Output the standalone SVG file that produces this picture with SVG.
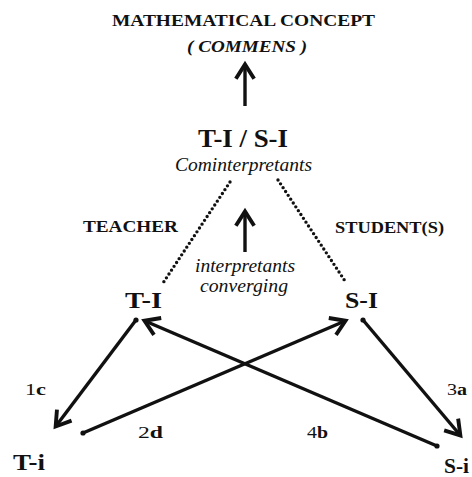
<svg xmlns="http://www.w3.org/2000/svg" width="472" height="477" viewBox="0 0 472 477">
<style>
text{font-family:"Liberation Serif",serif;fill:#111}
.b{font-weight:bold}
.i{font-style:italic}
.arr{stroke:#111;stroke-width:3.4;fill:none;marker-end:url(#ah)}
.dot{stroke:#111;stroke-width:3.4;stroke-linecap:round;stroke-dasharray:0 4.6;fill:none}
.lbl{font-size:17px}
.num{font-weight:normal}
</style>
<defs>
<marker id="ah" markerUnits="userSpaceOnUse" markerWidth="24" markerHeight="24" viewBox="-3 -3 21 21" refX="12" refY="8" orient="auto">
<path d="M0,0 L12.5,8 L0,16" fill="none" stroke="#111" stroke-width="3.4"/>
</marker>
</defs>
<g id="title">
<text class="b" x="112" y="26" font-size="17" textLength="263" lengthAdjust="spacingAndGlyphs">MATHEMATICAL CONCEPT</text>
<text class="b i" x="187" y="52" font-size="16" textLength="120" lengthAdjust="spacingAndGlyphs">( COMMENS )</text>
</g>
<g id="cominterpretants">
<text class="b" x="198" y="147" font-size="25" textLength="90" lengthAdjust="spacingAndGlyphs">T-I / S-I</text>
<text class="i" x="175" y="171" font-size="18" textLength="137" lengthAdjust="spacingAndGlyphs">Cominterpretants</text>
</g>
<g id="teacher-label"><text class="b" x="83" y="232" font-size="17" textLength="95" lengthAdjust="spacingAndGlyphs">TEACHER</text></g>
<g id="student-label"><text class="b" x="335" y="233" font-size="17" textLength="109" lengthAdjust="spacingAndGlyphs">STUDENT(S)</text></g>
<g id="converging">
<text class="i" x="195" y="272" font-size="18" textLength="100" lengthAdjust="spacingAndGlyphs">interpretants</text>
<text class="i" x="200" y="292" font-size="18" textLength="88" lengthAdjust="spacingAndGlyphs">converging</text>
</g>
<g id="T-I"><text class="b" x="125" y="308" font-size="24" textLength="37" lengthAdjust="spacingAndGlyphs">T-I</text></g>
<g id="S-I"><text class="b" x="345" y="308" font-size="24" textLength="33" lengthAdjust="spacingAndGlyphs">S-I</text></g>
<g id="T-i"><text class="b" x="13" y="470" font-size="24" textLength="32" lengthAdjust="spacingAndGlyphs">T-i</text></g>
<g id="S-i"><text class="b" x="444" y="473" font-size="22" textLength="25" lengthAdjust="spacingAndGlyphs">S-i</text></g>
<g id="connectors">
<line class="arr" x1="245" y1="106" x2="245" y2="65"/>
<line class="arr" x1="245" y1="252" x2="245" y2="212"/>
<line class="dot" x1="230" y1="182" x2="163" y2="283"/>
<line class="dot" x1="278" y1="180" x2="345" y2="281"/>
<line class="arr" x1="136" y1="320" x2="56" y2="426"/>
<line class="arr" x1="83" y1="433" x2="345" y2="321"/>
<line class="arr" x1="363" y1="320" x2="460" y2="435"/>
<line class="arr" x1="437" y1="446" x2="145" y2="321"/>
<circle cx="136" cy="320" r="2.6" fill="#111"/>
<circle cx="83" cy="433" r="2.6" fill="#111"/>
<circle cx="363" cy="320" r="2.6" fill="#111"/>
<circle cx="437" cy="446" r="2.6" fill="#111"/>
<text class="lbl" x="25" y="395" textLength="21" lengthAdjust="spacingAndGlyphs"><tspan class="num">1</tspan><tspan class="b">c</tspan></text>
<text class="lbl" x="138" y="438" textLength="25" lengthAdjust="spacingAndGlyphs"><tspan class="num">2</tspan><tspan class="b">d</tspan></text>
<text class="lbl" x="307" y="438" textLength="21" lengthAdjust="spacingAndGlyphs"><tspan class="num">4</tspan><tspan class="b">b</tspan></text>
<text class="lbl" x="447" y="395" textLength="20" lengthAdjust="spacingAndGlyphs"><tspan class="num">3</tspan><tspan class="b">a</tspan></text>
</g>
</svg>
